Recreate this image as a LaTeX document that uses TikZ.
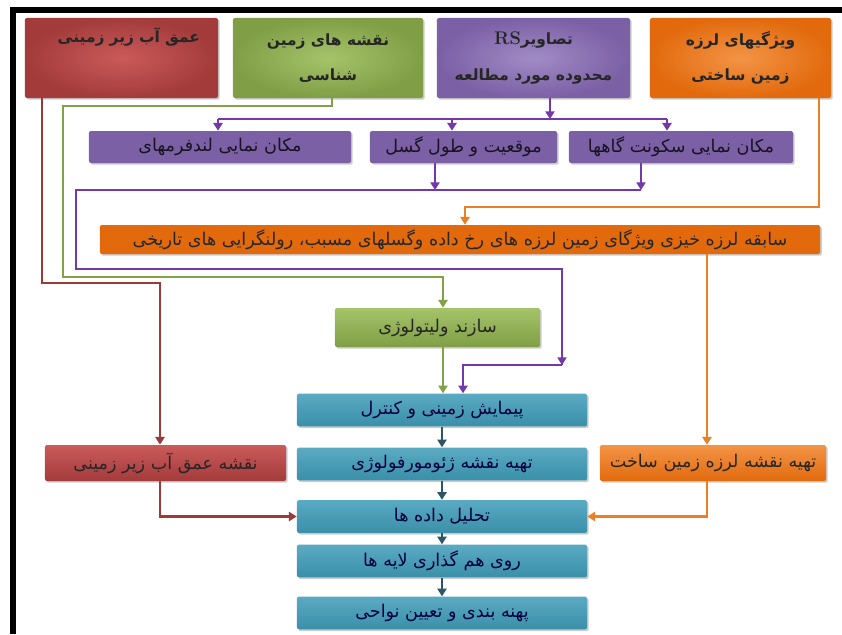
\documentclass[tikz,border=0pt]{standalone}
\usepackage{fontspec}
\usetikzlibrary{arrows.meta,shadows}
\TeXXeTstate=1
\newfontfamily\arabicfont[Script=Arabic]{DejaVu Sans}
\newcommand{\fatext}[1]{\beginR#1\endR}

\definecolor{redbox}{HTML}{A33B3B}
\definecolor{redlight}{HTML}{CB5A5A}
\definecolor{redline}{HTML}{9C3A3A}
\definecolor{greenbox}{HTML}{7F9E45}
\definecolor{greenlight}{HTML}{A5C46A}
\definecolor{greenline}{HTML}{82A24A}
\definecolor{purplebox}{HTML}{7B60A5}
\definecolor{purplelight}{HTML}{A18BC6}
\definecolor{purpleline}{HTML}{7438A8}
\definecolor{orangebox}{HTML}{E26A0D}
\definecolor{orangelight}{HTML}{F39446}
\definecolor{orangeline}{HTML}{EB7F24}
\definecolor{bluebox}{HTML}{3A8FA9}
\definecolor{bluelight}{HTML}{5AAAC2}
\definecolor{blueline}{HTML}{2E5566}

\begin{document}
\begin{tikzpicture}[x=0.025cm,y=-0.025cm,>={Triangle[length=5.5pt,width=6.5pt]},
	box/.style={rounded corners=1.5pt,align=center,inner sep=0pt,
		drop shadow={shadow xshift=1.2pt,shadow yshift=-1.2pt,fill=black!45,opacity=0.45}},
	topbox/.style={box,minimum height=2cm,text=black!85,
		font=\arabicfont\bfseries\fontsize{11}{25}\selectfont},
	midbox/.style={box,minimum height=0.8cm,fill=purplebox,text=black!80!purplebox,
		font=\arabicfont\fontsize{12.5}{14}\selectfont},
	bluebox/.style={box,minimum width=7.25cm,minimum height=0.82cm,
		top color=bluelight,bottom color=bluebox,text=black!75!blue,
		font=\arabicfont\fontsize{12.5}{14}\selectfont},
	sidebox/.style={box,minimum height=0.9cm,text=black!85,
		font=\arabicfont\fontsize{12.5}{14}\selectfont},
	link/.style={line width=1.6pt},
	redlink/.style={link,draw=redline},
	greenlink/.style={link,draw=greenline},
	purplelink/.style={link,draw=purpleline},
	orangelink/.style={link,draw=orangeline},
	bluelink/.style={link,draw=blueline}]

	\useasboundingbox (0,0) rectangle (842,634);
	\fill[black] (10,7) rectangle (842,13);
	\fill[black] (10,7) rectangle (16,634);

	\node[topbox,shade,inner color=redlight,outer color=redbox,minimum width=4.825cm,
		text width=3.925cm,align=right] (redTop) at (121.5,58)
		{\fatext{عمق آب زیر زمینی}\\\strut};
	\node[topbox,shade,inner color=greenlight,outer color=greenbox,minimum width=4.75cm]
		(greenTop) at (328,58) {\fatext{نقشه های زمین}\\\fatext{شناسی}};
	\node[topbox,shade,inner color=purplelight,outer color=purplebox,minimum width=4.825cm]
		(purpleTop) at (533.5,58)
		{\fatext{تصاویر\beginL{\rmfamily\bfseries\fontsize{13}{13}\selectfont RS}\endL}\\\fatext{محدوده مورد مطالعه}};
	\node[topbox,shade,inner color=orangelight,outer color=orangebox,minimum width=4.525cm]
		(orangeTop) at (740.5,58) {\fatext{ویژگیهای لرزه}\\\fatext{زمین ساختی}};

	\node[midbox,minimum width=6.55cm] (pLand) at (220,147) {\fatext{مکان نمایی لندفرمهای}};
	\node[midbox,minimum width=4.675cm] (pFault) at (463.5,147) {\fatext{موقعیت و طول گسل}};
	\node[midbox,minimum width=5.6cm] (pSettle) at (681,147) {\fatext{مکان نمایی سکونت گاهها}};

	\node[sidebox,fill=orangebox,minimum width=18cm,minimum height=0.725cm] (history) at (460,239.5)
		{\fatext{سابقه لرزه خیزی ویژگای زمین لرزه های رخ داده وگسلهای مسبب، رولنگرایی های تاریخی}};

	\node[sidebox,top color=greenlight,bottom color=greenbox,minimum width=5.125cm,
		minimum height=0.975cm] (sazand) at (437.5,327.5) {\fatext{سازند ولیتولوژی}};

	\foreach \n/\yy/\txt in {1/410/{پیمایش زمینی و کنترل},2/464/{تهیه نقشه ژئومورفولوژی},
		3/516.5/{تحلیل داده ها},4/561/{روی هم گذاری لایه ها},5/613/{پهنه بندی و تعیین نواحی}}{
		\node[bluebox] (b\n) at (442,\yy) {\fatext{\txt}};
	}

	\node[sidebox,top color=redlight,bottom color=redbox,minimum width=6.025cm]
		(redMap) at (165.5,463) {\fatext{نقشه عمق آب زیر زمینی}};
	\node[sidebox,top color=orangelight,bottom color=orangebox,minimum width=5.65cm]
		(orangeMap) at (713,463) {\fatext{تهیه نقشه لرزه زمین ساخت}};

	\coordinate (redK1) at (42,283);
	\coordinate (redK2) at (160,283);
	\draw[redlink,->] (redTop.south -| redK1) -- (redK1) -- (redK2) -- (redMap.north -| redK2);
	\draw[redlink,->] (redMap.south -| redK2) |- (b3.west);

	\coordinate (grK1) at (332,106);
	\coordinate (grK2) at (63,106);
	\coordinate (grK3) at (63,277);
	\coordinate (grK4) at (443,277);
	\draw[greenlink,->] (greenTop.south -| grK1) -- (grK1) -- (grK2) -- (grK3) -- (grK4) -- (sazand.north -| grK4);
	\draw[greenlink,->] (sazand.south -| grK4) -- (b1.north -| grK4);

	\coordinate (puK0) at (550,119);
	\coordinate (puK1) at (218,119);
	\coordinate (puK2) at (452,119);
	\coordinate (puK3) at (667,119);
	\draw[purplelink,->] (purpleTop.south -| puK0) -- (puK0);
	\draw[purplelink] (puK1) -- (puK3);
	\draw[purplelink,->] (puK1) -- (pLand.north -| puK1);
	\draw[purplelink,->] (puK2) -- (pFault.north -| puK2);
	\draw[purplelink,->] (puK3) -- (pSettle.north -| puK3);
	\coordinate (puK4) at (435,190);
	\coordinate (puK5) at (641,190);
	\coordinate (puK6) at (76,190);
	\coordinate (puK7) at (76,269);
	\coordinate (puK8) at (562,269);
	\coordinate (puK9) at (562,365);
	\coordinate (puK10) at (463,365);
	\draw[purplelink,->] (pFault.south -| puK4) -- (puK4);
	\draw[purplelink,->] (pSettle.south -| puK5) -- (puK5);
	\draw[purplelink] (puK5) -- (puK6) -- (puK7) -- (puK8) -- (puK9);
	\draw[purplelink,->] (puK8) -- (puK9);
	\draw[purplelink,->] (puK9) -- (puK10) -- (b1.north -| puK10);

	\coordinate (orK1) at (819,207);
	\coordinate (orK2) at (465,207);
	\coordinate (orK3) at (707,350);
	\draw[orangelink,->] (orangeTop.south -| orK1) -- (orK1) -- (orK2) -- (history.north -| orK2);
	\draw[orangelink,->] (history.south -| orK3) -- (orangeMap.north -| orK3);
	\draw[orangelink,->] (orangeMap.south -| orK3) |- (b3.east);

	\foreach \a/\b in {b1/b2,b2/b3,b3/b4,b4/b5}{
		\draw[bluelink,->] (\a) -- (\b);
	}
\end{tikzpicture}
\end{document}
